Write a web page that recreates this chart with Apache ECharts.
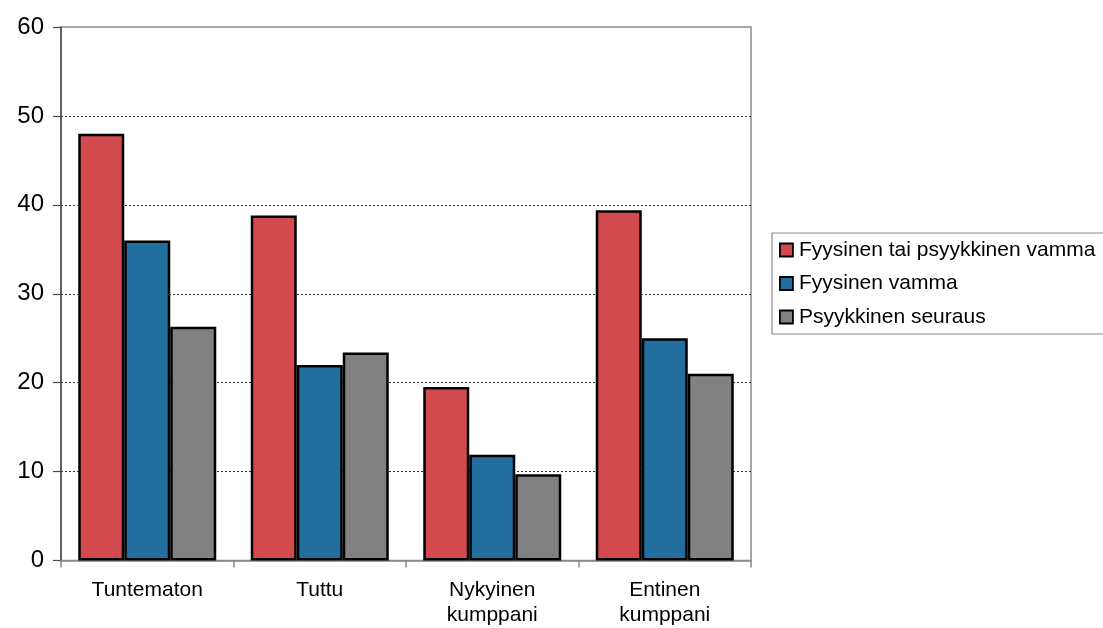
<!DOCTYPE html>
<html>
<head>
<meta charset="utf-8">
<script src="https://cdn.jsdelivr.net/npm/echarts@6/dist/echarts.min.js"></script>
<style>
html,body{margin:0;padding:0;background:#fff;}
#chart{width:1103px;height:628px;}
</style>
</head>
<body>
<div id="chart"></div>
<script>
var categories = ['Tuntematon', 'Tuttu', 'Nykyinen\nkumppani', 'Entinen\nkumppani'];
var seriesNames = ['Fyysinen tai psyykkinen vamma', 'Fyysinen vamma', 'Psyykkinen seuraus'];
var valuesPhysOrPsych = [48.0, 38.8, 19.5, 39.4];
var valuesPhysical = [36.0, 22.0, 11.9, 25.0];
var valuesPsych = [26.3, 23.4, 9.7, 21.0];
var yTicks = { min: 0, max: 60, interval: 10 };
var colors = ['#D24A4E', '#226E9E', '#818181'];

var font = '"Liberation Sans", Arial, sans-serif';
var chart = echarts.init(document.getElementById('chart'), null, {renderer: 'canvas'});
var dataSets = [valuesPhysOrPsych, valuesPhysical, valuesPsych];

chart.setOption({
  animation: false,
  backgroundColor: '#ffffff',
  textStyle: { fontFamily: font },
  grid: {
    left: 61, right: 352, top: 27, bottom: 67.5,
    show: true, borderColor: '#8a8a8a', borderWidth: 1.5, backgroundColor: 'transparent'
  },
  legend: {
    orient: 'vertical',
    left: 772, top: 233,
    padding: [5, 12, 5, 7],
    itemGap: 9.5,
    itemWidth: 13, itemHeight: 13,
    icon: 'rect',
    borderColor: '#8a8a8a', borderWidth: 1.2,
    itemStyle: { borderColor: '#000', borderWidth: 1.8 },
    textStyle: { fontFamily: font, fontSize: 21, color: '#000', lineHeight: 24, padding: [0, 0, 0, 1] },
    data: seriesNames
  },
  xAxis: {
    type: 'category',
    data: categories,
    axisLine: { show: true, lineStyle: { color: '#8a8a8a', width: 1.5 } },
    axisTick: { show: true, length: 7, lineStyle: { color: '#8a8a8a', width: 1.5 } },
    axisLabel: { fontFamily: font, fontSize: 21, color: '#000', lineHeight: 25, margin: 17, interval: 0 },
    splitLine: { show: false }
  },
  yAxis: {
    type: 'value',
    min: yTicks.min, max: yTicks.max, interval: yTicks.interval,
    axisLine: { show: true, lineStyle: { color: '#4a4a4a', width: 1.5 } },
    axisTick: { show: true, length: 8, lineStyle: { color: '#4a4a4a', width: 1.2 } },
    axisLabel: { fontFamily: font, fontSize: 24, color: '#000', margin: 17 },
    splitLine: { show: true, showMinLine: false, showMaxLine: false, lineStyle: { color: '#333', type: [2, 2], width: 1 } }
  },
  series: seriesNames.map(function (name, i) {
    return {
      name: name,
      type: 'bar',
      data: dataSets[i],
      barGap: '0%',
      barCategoryGap: '20%',
      itemStyle: { color: colors[i], borderColor: '#000', borderWidth: 2.5 }
    };
  })
});
</script>
</body>
</html>
